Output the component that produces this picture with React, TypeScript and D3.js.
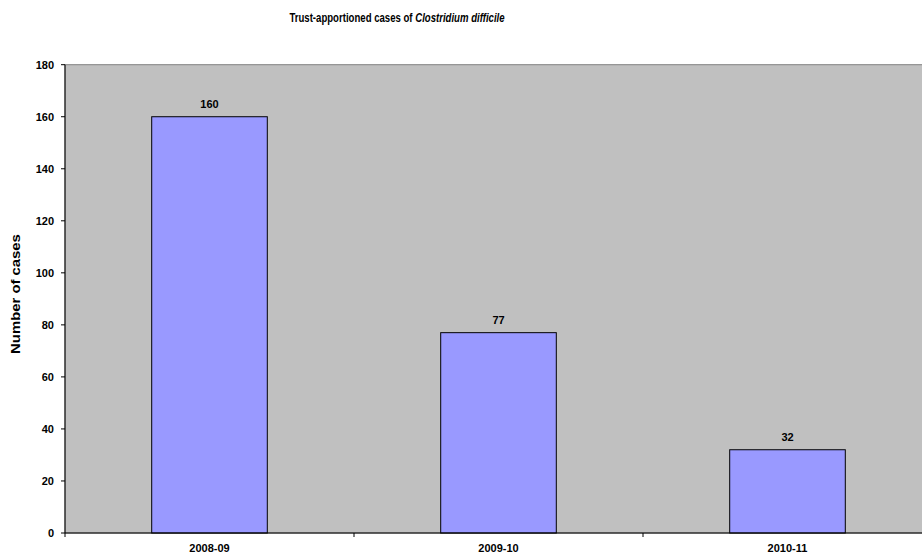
import React from "react";
import * as d3 from "d3";

const categories = ["2008-09", "2009-10", "2010-11"];
const cases = [160, 77, 32];
const yTicks = [0, 20, 40, 60, 80, 100, 120, 140, 160, 180];

const W = 922;
const H = 559;
const margin = { left: 65, top: 64.7, bottom: 26 };
const bandWidth = 289;

export default function App() {
  const plotRight = margin.left + bandWidth * categories.length;
  const plotBottom = H - margin.bottom;

  const x = d3
    .scaleBand<string>()
    .domain(categories)
    .range([margin.left, plotRight])
    .paddingInner(0)
    .paddingOuter(0);
  const y = d3.scaleLinear().domain([0, 180]).range([plotBottom, margin.top]);

  const barW = x.bandwidth() * 0.4;
  const font = "Arial, 'Liberation Sans', sans-serif";

  return (
    <svg
      width={W}
      height={H}
      style={{ position: "absolute", left: 0, top: 0, background: "#fff" }}
      fontFamily={font}
    >
      <text
        transform="translate(397,22) scale(0.8,1)"
        textAnchor="middle"
        fontSize={12}
        fontWeight="bold"
        fill="#000"
      >
        Trust-apportioned cases of <tspan fontStyle="italic">Clostridium difficile</tspan>
      </text>

      {/* plot area */}
      <rect
        x={margin.left}
        y={margin.top}
        width={plotRight - margin.left}
        height={plotBottom - margin.top}
        fill="#c0c0c0"
        stroke="#808080"
        strokeWidth={1}
      />

      {/* bars */}
      {categories.map((c, i) => {
        const cx = (x(c) as number) + x.bandwidth() / 2;
        return (
          <g key={c}>
            <rect
              x={cx - barW / 2}
              y={y(cases[i])}
              width={barW}
              height={plotBottom - y(cases[i])}
              fill="#9999ff"
              stroke="#000"
              strokeWidth={1}
            />
            <text
              x={cx}
              y={y(cases[i]) - 9}
              textAnchor="middle"
              fontSize={11}
              fontWeight="bold"
              fill="#000"
            >
              {cases[i]}
            </text>
            <text x={cx} y={552} textAnchor="middle" fontSize={11} fontWeight="bold" fill="#000">
              {c}
            </text>
          </g>
        );
      })}

      {/* y axis */}
      <line x1={margin.left} x2={margin.left} y1={margin.top} y2={plotBottom + 4} stroke="#000" strokeWidth={1} />
      {yTicks.map((t) => (
        <g key={t}>
          <line x1={margin.left - 4} x2={margin.left} y1={y(t)} y2={y(t)} stroke="#000" />
          <text x={54} y={y(t) + 4} textAnchor="end" fontSize={11} fontWeight="bold" fill="#000">
            {t}
          </text>
        </g>
      ))}

      {/* x axis */}
      <line x1={margin.left} x2={plotRight} y1={plotBottom} y2={plotBottom} stroke="#000" strokeWidth={1} />
      {categories.map((c) => (
        <line
          key={c}
          x1={(x(c) as number) + x.bandwidth()}
          x2={(x(c) as number) + x.bandwidth()}
          y1={plotBottom}
          y2={plotBottom + 4}
          stroke="#000"
        />
      ))}

      <text
        transform="translate(20,294) scale(1,1.24) rotate(-90)"
        textAnchor="middle"
        fontSize={12}
        fontWeight="bold"
        fill="#000"
      >
        Number of cases
      </text>
    </svg>
  );
}
